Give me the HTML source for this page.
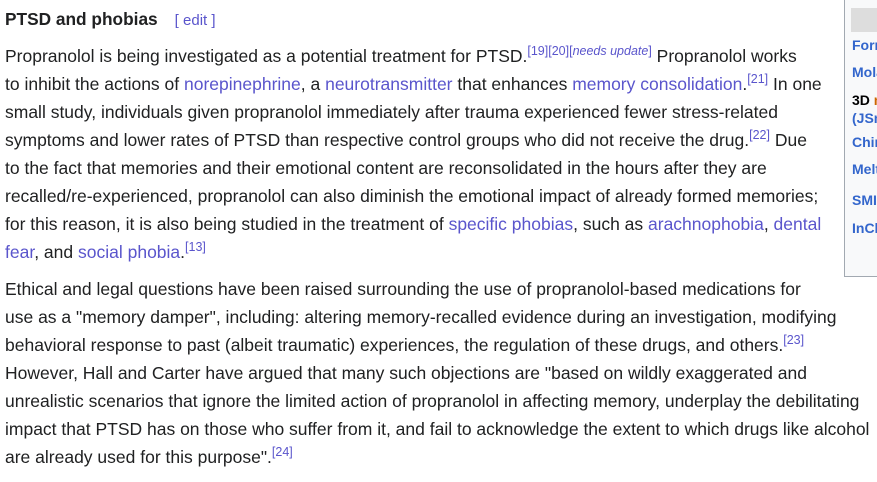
<!DOCTYPE html>
<html><head><meta charset="utf-8"><style>
body{margin:0;width:877px;height:482px;background:#fff;overflow:hidden;position:relative;font-family:"Liberation Sans",Arial,sans-serif;color:#202122;}
.l{position:absolute;left:5px;font-size:17.5px;line-height:20px;white-space:nowrap;}
a{color:#5a55cc;text-decoration:none;}
sup{font-size:12.5px;line-height:0;vertical-align:7px;color:#5a55cc;}
sup i{font-style:italic;}
h2{position:absolute;left:5px;top:9px;margin:0;font-size:17.3px;font-weight:bold;line-height:20px;}
.edit{font-weight:normal;font-size:15px;color:#5a55cc;margin-left:17px;}
.side{position:absolute;left:844px;top:-2px;width:40px;height:277px;border:1px solid #a2a9b1;background:#f8f9fa;}
.side .hd{position:absolute;left:6px;top:9px;width:40px;height:24px;background:#ddd;}
.side div.t{position:absolute;left:7px;font-size:14px;font-weight:bold;color:#3366cc;line-height:16px;white-space:nowrap;}
</style></head><body>
<h2>PTSD and phobias<span class="edit">[ edit ]</span></h2>
<div class="side">
<div class="hd"></div>
<div class="t" style="top:38px">Formula</div>
<div class="t" style="top:65px">Molar</div>
<div class="t" style="top:93px;color:#000">3D <span style="color:#c60">m</span></div>
<div class="t" style="top:111px">(JSmol)</div>
<div class="t" style="top:135px">Chirality</div>
<div class="t" style="top:162px">Melting</div>
<div class="t" style="top:193px">SMILES</div>
<div class="t" style="top:221px">InChI</div>
</div>
<div>
<div class="l" style="top:46px">Propranolol is being investigated as a potential treatment for PTSD.<sup>[19][20][<i>needs update</i>]</sup> Propranolol works</div>
<div class="l" style="top:74px">to inhibit the actions of <a>norepinephrine</a>, a <a>neurotransmitter</a> that enhances <a>memory consolidation</a>.<sup>[21]</sup> In one</div>
<div class="l" style="top:102px">small study, individuals given propranolol immediately after trauma experienced fewer stress-related</div>
<div class="l" style="top:130px">symptoms and lower rates of PTSD than respective control groups who did not receive the drug.<sup>[22]</sup> Due</div>
<div class="l" style="top:158px">to the fact that memories and their emotional content are reconsolidated in the hours after they are</div>
<div class="l" style="top:186px">recalled/re-experienced, propranolol can also diminish the emotional impact of already formed memories;</div>
<div class="l" style="top:214px">for this reason, it is also being studied in the treatment of <a>specific phobias</a>, such as <a>arachnophobia</a>, <a>dental</a></div>
<div class="l" style="top:242px"><a>fear</a>, and <a>social phobia</a>.<sup>[13]</sup></div>
</div>
<div>
<div class="l" style="top:279px">Ethical and legal questions have been raised surrounding the use of propranolol-based medications for</div>
<div class="l" style="top:307px">use as a "memory damper", including: altering memory-recalled evidence during an investigation, modifying</div>
<div class="l" style="top:335px">behavioral response to past (albeit traumatic) experiences, the regulation of these drugs, and others.<sup>[23]</sup></div>
<div class="l" style="top:363px">However, Hall and Carter have argued that many such objections are "based on wildly exaggerated and</div>
<div class="l" style="top:391px">unrealistic scenarios that ignore the limited action of propranolol in affecting memory, underplay the debilitating</div>
<div class="l" style="top:419px">impact that PTSD has on those who suffer from it, and fail to acknowledge the extent to which drugs like alcohol</div>
<div class="l" style="top:447px">are already used for this purpose".<sup>[24]</sup></div>
</div>
</body></html>
